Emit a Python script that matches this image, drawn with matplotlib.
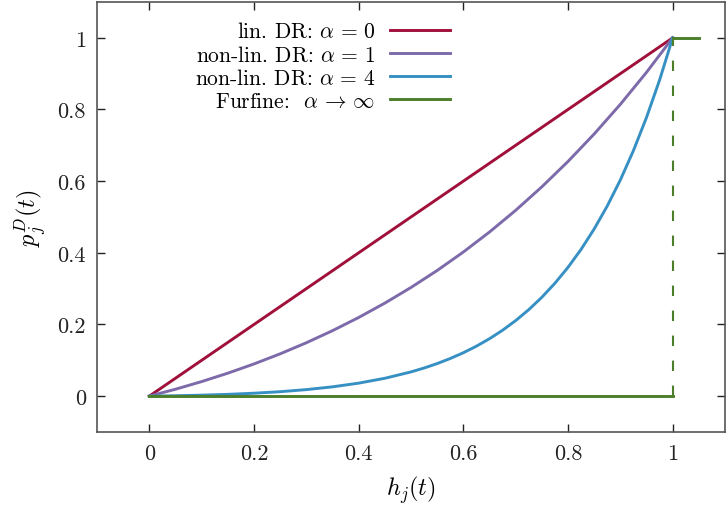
import matplotlib
matplotlib.use("Agg")
import matplotlib.pyplot as plt

plt.rcParams['font.family'] = 'serif'
plt.rcParams['font.serif'] = ['cmr10', 'DejaVu Serif']
plt.rcParams['mathtext.fontset'] = 'cm'
plt.rcParams['axes.formatter.use_mathtext'] = True
plt.rcParams['axes.unicode_minus'] = False

# Data
h_lin = [0.0, 1.0]
p_lin = [0.0, 1.0]

h_a1 = [0.0, 0.05, 0.1, 0.15, 0.2, 0.25, 0.3, 0.35, 0.4, 0.45, 0.5, 0.55,
        0.6, 0.65, 0.7, 0.75, 0.8, 0.85, 0.9, 0.95, 1.0]
p_a1 = [0.0, 0.01934, 0.04066, 0.06411, 0.08987, 0.11809, 0.14898, 0.18272,
        0.21952, 0.25963, 0.30327, 0.35070, 0.40219, 0.45805, 0.51857,
        0.58410, 0.65498, 0.73160, 0.81435, 0.90367, 1.0]

h_a4 = [0.0, 0.05, 0.1, 0.15, 0.2, 0.25, 0.3, 0.35, 0.4, 0.45, 0.5, 0.525,
        0.55, 0.575, 0.6, 0.625, 0.65, 0.675, 0.7, 0.725, 0.75, 0.775, 0.8,
        0.825, 0.85, 0.875, 0.9, 0.925, 0.95, 0.975, 1.0]
p_a4 = [0.0, 0.00112, 0.00273, 0.00501, 0.00815, 0.01245, 0.01824, 0.02600,
        0.03629, 0.04986, 0.06767, 0.07852, 0.09091, 0.10504, 0.12114,
        0.13946, 0.16029, 0.18396, 0.21084, 0.24133, 0.27591, 0.31509,
        0.35946, 0.40968, 0.46649, 0.53071, 0.60329, 0.68526, 0.77779,
        0.88222, 1.0]

h_furf_low = [0.0, 1.0]
p_furf_low = [0.0, 0.0]
h_furf_jump = [1.0, 1.0]
p_furf_jump = [0.0, 1.0]
h_furf_high = [1.0, 1.05]
p_furf_high = [1.0, 1.0]

labels = [r'lin. DR: $\alpha\,=\,0$', r'non-lin. DR: $\alpha\,=\,1$',
          r'non-lin. DR: $\alpha\,=\,4$', r'Furfine:  $\alpha\,\to\,\infty$']
colors = ['#a0103a', '#7d6aaa', '#3790c3', '#4b7f2a']

xticks = [0, 0.2, 0.4, 0.6, 0.8, 1]
yticks = [0, 0.2, 0.4, 0.6, 0.8, 1]
xticklabels = ['0', '0.2', '0.4', '0.6', '0.8', '1']
yticklabels = ['0', '0.2', '0.4', '0.6', '0.8', '1']

fig = plt.figure(figsize=(7.28, 5.06), dpi=100)
ax = fig.add_axes([0.1332, 0.1443, 0.8627, 0.8498])

lw = 2.1
l1, = ax.plot(h_lin, p_lin, color=colors[0], lw=lw)
l2, = ax.plot(h_a1, p_a1, color=colors[1], lw=lw)
l3, = ax.plot(h_a4, p_a4, color=colors[2], lw=lw)
l4, = ax.plot(h_furf_low, p_furf_low, color=colors[3], lw=lw)
ax.plot(h_furf_jump, p_furf_jump, color=colors[3], lw=1.5, ls=(0, (5, 7)))
ax.plot(h_furf_high, p_furf_high, color=colors[3], lw=lw)

ax.set_xlim(-0.1, 1.1)
ax.set_ylim(-0.1, 1.1)
ax.set_xticks(xticks)
ax.set_xticklabels(xticklabels)
ax.set_yticks(yticks)
ax.set_yticklabels(yticklabels)
ax.tick_params(direction='in', top=True, right=True, length=6, width=1,
               labelsize=16, colors='#222222', pad=8)
for s in ax.spines.values():
    s.set_color('#555555')
    s.set_linewidth(1.2)

ax.set_xlabel(r'$h_j(t)$', fontsize=17.5, labelpad=8)
ax.set_ylabel(r'$p_j^D(t)$', fontsize=17.5, labelpad=6)

leg = ax.legend([l1, l2, l3, l4], labels, loc='upper left',
                bbox_to_anchor=(0.125, 1.0), frameon=False, markerfirst=False,
                fontsize=15.5, handlelength=2.8, handletextpad=0.65,
                labelspacing=0.15)

fig.savefig('out.png', dpi=100)
